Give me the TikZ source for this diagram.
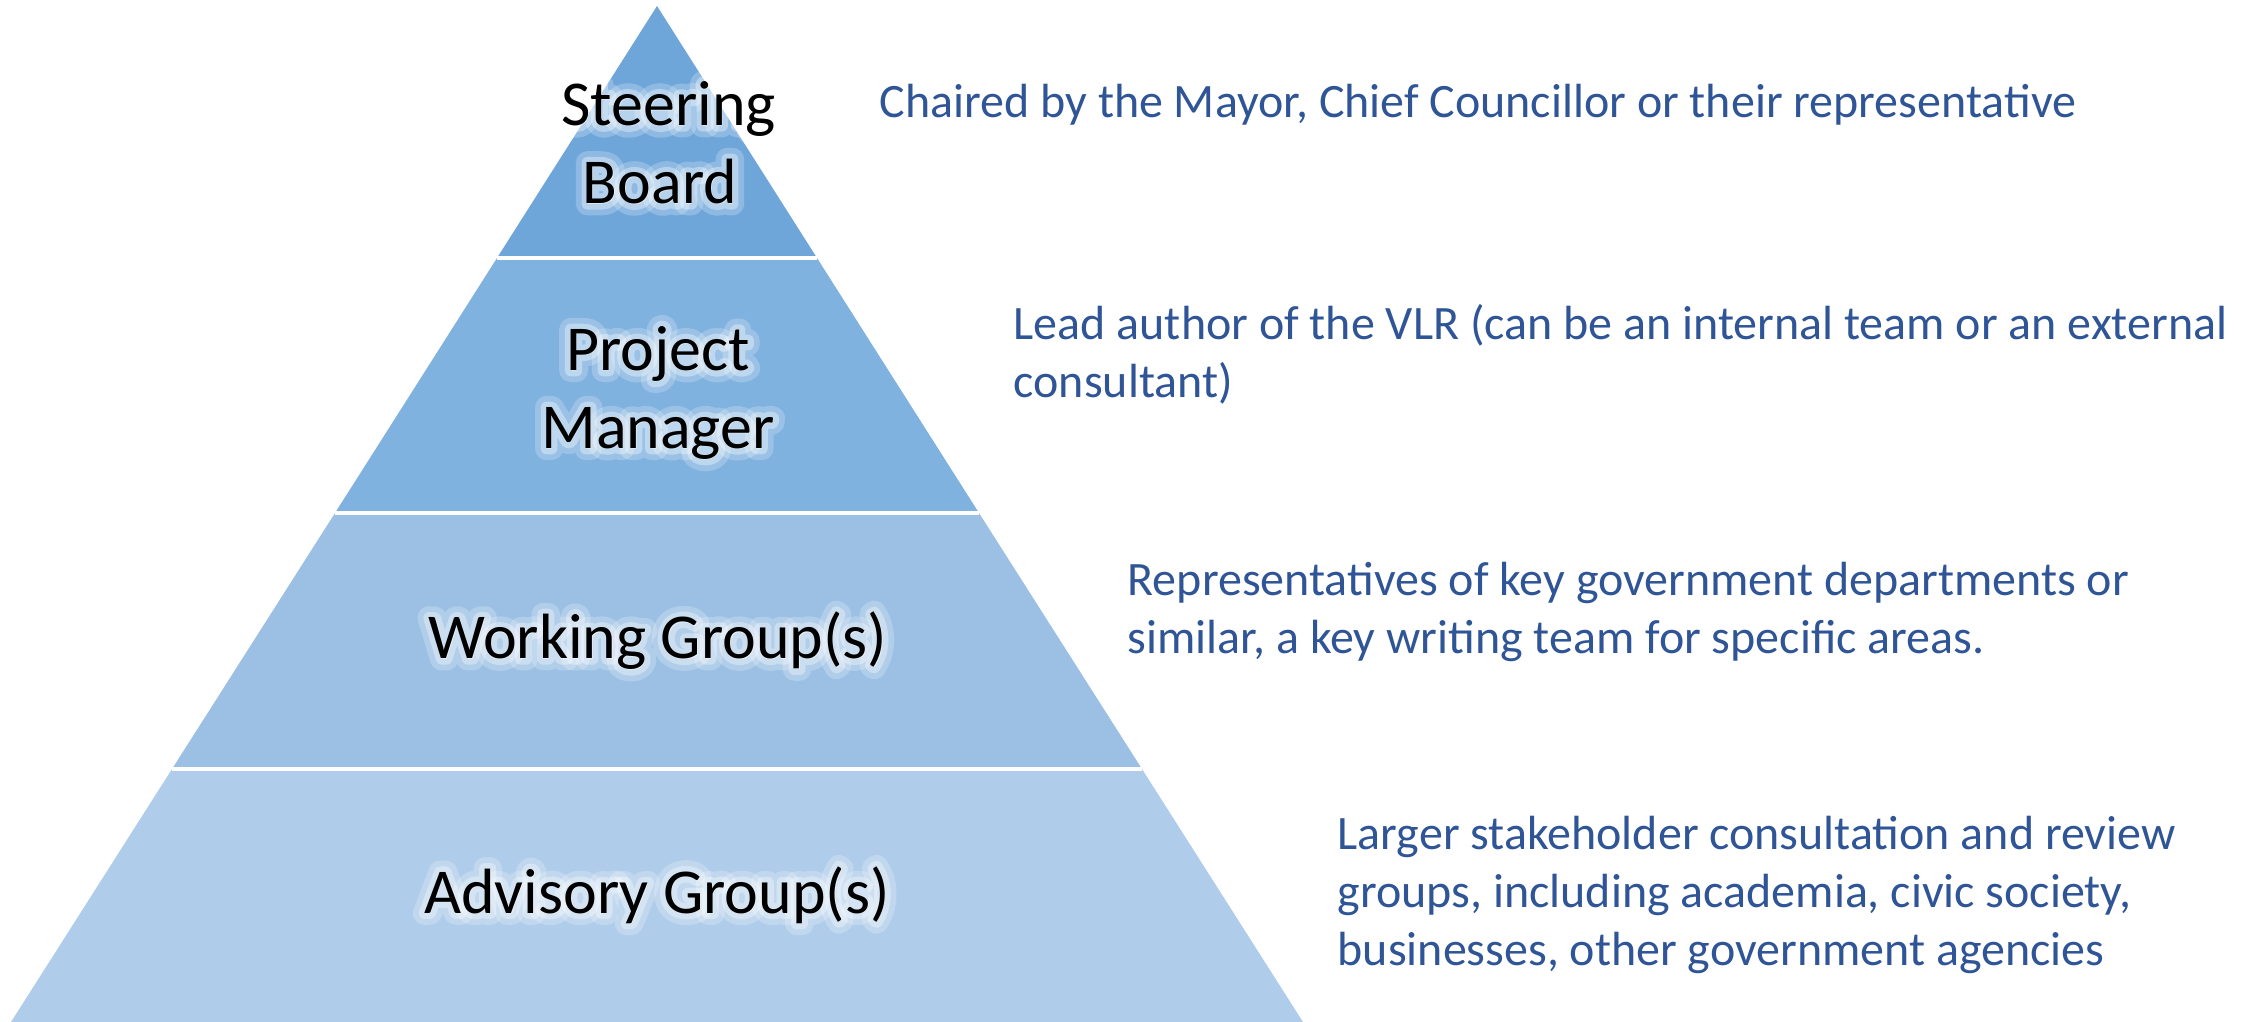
\documentclass[tikz,border=0pt]{standalone}
\usepackage{fontspec}
\setmainfont{Carlito}
\newfontfamily\haloinner[FakeBold=18]{Carlito}
\newfontfamily\halouter[FakeBold=36]{Carlito}
\usepackage{tikz}
\usetikzlibrary{calc, positioning}

\definecolor{tierone}{RGB}{111,166,218}
\definecolor{tiertwo}{RGB}{128,178,223}
\definecolor{tierthree}{RGB}{155,192,228}
\definecolor{tierfour}{RGB}{175,205,234}
\definecolor{notetext}{RGB}{47,85,151}

\newcommand{\labelfont}{\fontsize{18.2pt}{22.2pt}\selectfont}
\newcommand{\notefont}{\fontsize{13.65pt}{16.4pt}\selectfont}

\tikzset{
	tierlabel/.style={font=\labelfont, align=center, text=black, inner sep=0pt},
	halo/.style={tierlabel, text=white, line join=round},
	note/.style={font=\notefont, text=notetext, align=left, anchor=west, inner sep=0pt},
	divider/.style={white, line width=0.9pt}
}

% black label on top of two thickened white copies (the glow)
\newcommand{\glowlabel}[3]{%
	\node[halo, font=\labelfont\halouter, opacity=0.22] (#1glow) at (#2) {#3};
	\node[halo, font=\labelfont\haloinner, opacity=0.35] (#1halo) at (#2) {#3};
	\node[tierlabel] (#1) at (#2) {#3};
}

\begin{document}
\begin{tikzpicture}[x=0.1mm, y=-0.1mm]
	\useasboundingbox (0,0) rectangle (2259,1022);
	
	%Piramide
	\coordinate (apex) at (657,6);
	\coordinate (l1) at (497,258);  \coordinate (r1) at (817,258);
	\coordinate (l2) at (335,513);  \coordinate (r2) at (979,513);
	\coordinate (l3) at (172,769);  \coordinate (r3) at (1142,769);
	\coordinate (l4) at (11,1022);  \coordinate (r4) at (1303,1022);
	
	\fill[tierone] (apex) -- (r1) -- (l1) -- cycle;
	\fill[tiertwo] (l1) -- (r1) -- (r2) -- (l2) -- cycle;
	\fill[tierthree] (l2) -- (r2) -- (r3) -- (l3) -- cycle;
	\fill[tierfour] (l3) -- (r3) -- (r4) -- (l4) -- cycle;
	
	\draw[divider] (l1) -- (r1);
	\draw[divider] (l2) -- (r2);
	\draw[divider] (l3) -- (r3);
	
	%Niveles
	\glowlabel{board}{660,143}{\hspace*{5pt}Steering\\Board}
	\glowlabel{manager}{658,393}{Project\\Manager}
	\glowlabel{working}{658,641}{Working Group(s)}
	\glowlabel{advisory}{657,895}{Advisory Group(s)}
	
	%Descripciones
	\node[note] (boardnote) at (879,105) {Chaired by the Mayor, Chief Councillor or their representative};
	\node[note] (managernote) at (1013,354) {Lead author of the VLR (can be an internal team or an external\\consultant)};
	\node[note] (workingnote) at (1127,612) {Representatives of key government departments or\\similar, a key writing team for specific areas.};
	\node[note] (advisorynote) at (1337,895) {Larger stakeholder consultation and review\\groups, including academia, civic society,\\businesses, other government agencies};
	
\end{tikzpicture}
\end{document}
